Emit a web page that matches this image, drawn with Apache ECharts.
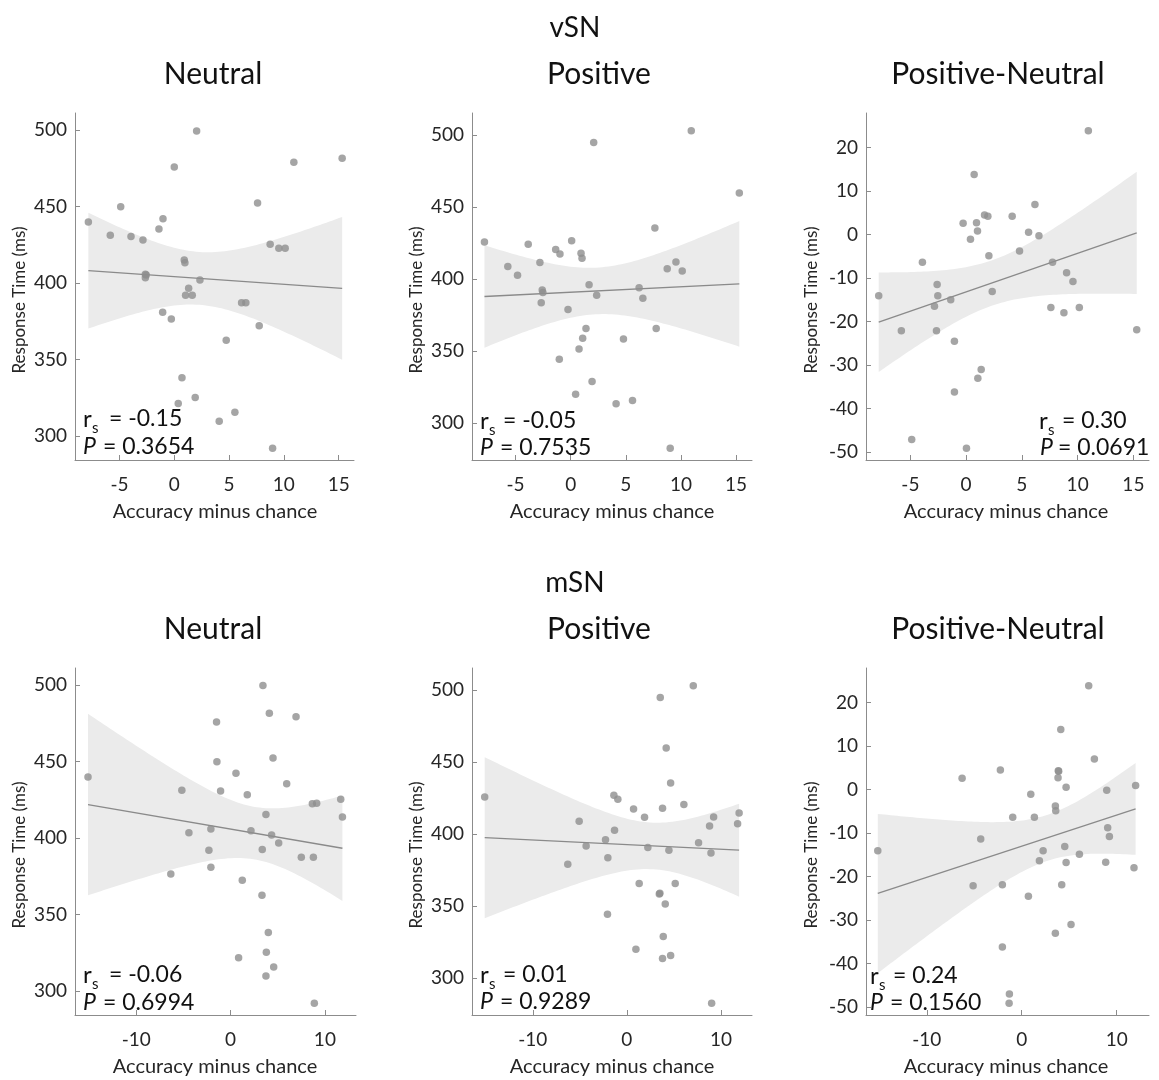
<!DOCTYPE html>
<html>
<head>
<meta charset="utf-8">
<title>Accuracy vs response time</title>
<script src="https://cdn.jsdelivr.net/npm/echarts@6/dist/echarts.min.js"></script>
<style>
  html, body { margin: 0; padding: 0; background: #ffffff; }
  #chart { width: 1159px; height: 1080px; }
</style>
</head>
<body>
<div id="chart"></div>
<script>
// ---- vSN: accuracy minus chance (x) and response time (y) per participant ----
const vsnNeutralAcc = [-7.84, -4.89, -5.84, -3.95, -2.86, -2.64, -2.64, -2.56, -1.03, -1.40, 0.00, 2.04, -1.06, -0.27, 0.91, 0.97, 1.31, 1.03, 1.64, 2.34, 0.70, 0.36, 1.91, 4.10, 5.53, 4.74, 6.14, 6.53, 7.75, 7.60, 8.75, 9.54, 10.12, 10.91, 15.32, 8.97];
const vsnNeutralRT  = [439.9, 449.9, 431.2, 430.3, 428.1, 405.7, 403.5, 405.2, 442.0, 435.3, 475.8, 499.3, 380.8, 376.5, 415.0, 413.3, 396.5, 391.9, 391.9, 402.0, 338.1, 321.3, 325.1, 309.6, 315.5, 362.5, 387.1, 387.1, 372.1, 452.3, 425.3, 422.7, 422.7, 478.9, 481.5, 291.9];

const vsnPositiveAcc = [-7.82, -5.70, -4.82, -3.85, -2.79, -2.58, -2.52, -2.67, -1.36, -0.97, 0.09, 0.94, 1.03, -0.24, 1.67, 2.36, 2.09, 1.39, 1.09, 0.76, -1.03, 1.94, 0.45, 4.12, 5.61, 4.79, 6.21, 6.55, 7.64, 7.76, 8.76, 9.55, 10.12, 10.94, 9.03, 15.30];
const vsnPositiveRT  = [425.8, 408.7, 402.7, 424.2, 411.5, 392.4, 390.8, 383.7, 420.5, 417.5, 426.7, 417.9, 414.5, 378.9, 396.2, 388.8, 494.9, 365.7, 359.0, 351.6, 344.4, 328.9, 320.2, 313.5, 315.8, 358.5, 394.1, 386.7, 435.5, 365.7, 407.3, 411.9, 405.7, 503.0, 282.7, 459.8];

const vsnDiffAcc = [-7.84, -5.81, -4.88, -3.92, -2.84, -2.66, -2.60, -2.54, -1.38, -1.05, -1.05, -0.27, 0.03, 0.39, 0.72, 0.93, 1.02, 1.05, 1.35, 1.65, 1.95, 2.04, 2.34, 4.13, 4.79, 5.60, 6.17, 6.53, 7.60, 7.75, 8.77, 9.01, 9.58, 10.15, 10.96, 15.30];
const vsnDiffRT  = [-14.1, -22.1, -47.1, -6.4, -16.5, -22.1, -11.5, -14.1, -15.0, -24.5, -36.2, 2.6, -49.1, -1.1, 13.8, 2.7, 0.8, -33.0, -31.0, 4.5, 4.2, -4.9, -13.1, 4.2, -3.8, 0.5, 6.9, -0.3, -16.8, -6.4, -18.0, -8.8, -10.8, -16.8, 23.8, -21.9];

// ---- mSN ----
const msnNeutralAcc = [-15.12, -5.17, -6.34, -4.42, -1.49, -1.45, -1.06, -2.09, -2.30, -2.09, 0.57, 1.77, 1.24, 2.16, 0.85, 3.43, 4.11, 4.50, 3.75, 3.36, 4.35, 5.10, 3.33, 4.00, 3.79, 4.57, 3.75, 5.95, 6.94, 7.50, 8.78, 8.67, 9.13, 8.88, 11.68, 11.86];
const msnNeutralRT  = [439.9, 431.2, 376.5, 403.5, 475.8, 449.9, 430.7, 405.9, 391.9, 380.8, 442.3, 428.3, 372.3, 404.8, 321.8, 499.6, 481.5, 452.3, 415.3, 392.4, 402.0, 396.7, 362.5, 338.3, 325.3, 315.7, 309.8, 435.5, 479.3, 387.4, 387.4, 422.4, 422.7, 291.9, 425.3, 413.7];

const msnPositiveAcc = [-15.11, -5.07, -6.28, -4.33, -2.27, -2.02, -2.06, -1.38, -0.96, -1.31, 0.71, 1.88, 2.23, 1.31, 0.96, 3.55, 4.18, 4.65, 3.79, 4.47, 3.51, 3.45, 4.08, 3.87, 3.79, 4.65, 5.14, 6.06, 7.06, 7.62, 8.79, 8.94, 9.22, 9.01, 11.93, 11.77];
const msnPositiveRT  = [425.8, 408.9, 379.1, 391.8, 396.2, 383.7, 344.4, 427.0, 424.2, 402.7, 417.5, 411.7, 390.7, 365.7, 320.2, 494.9, 459.8, 435.5, 417.9, 388.8, 359.0, 358.5, 351.6, 328.9, 313.7, 315.8, 365.7, 420.5, 503.0, 394.1, 405.7, 387.0, 411.9, 282.7, 414.7, 407.3];

const msnDiffAcc = [-15.16, -6.28, -5.12, -4.32, -2.25, -2.04, -2.04, -1.30, -1.33, -0.95, 0.70, 0.95, 1.33, 1.86, 2.25, 3.54, 3.58, 3.54, 3.82, 3.89, 3.85, 4.11, 4.53, 4.67, 4.67, 4.21, 5.19, 6.07, 7.05, 7.65, 8.84, 8.95, 9.05, 9.23, 11.82, 11.99];
const msnDiffRT  = [-14.1, 2.6, -22.1, -11.4, 4.5, -21.9, -36.2, -47.0, -49.1, -6.4, -24.5, -1.1, -6.4, -16.4, -14.1, -3.8, -4.9, -33.0, 2.7, 4.2, 4.3, 13.8, -13.1, 0.5, -16.8, -21.9, -31.0, -14.9, 23.8, 7.0, -16.7, -0.2, -8.8, -10.8, -18.0, 0.9];

// ---- tick labels ----
const vsnAccTicks = [-5, 0, 5, 10, 15];
const msnAccTicks = [-10, 0, 10];
const rtTicks = [300, 350, 400, 450, 500];
const diffTicks = [-50, -40, -30, -20, -10, 0, 10, 20];

// ---- Spearman statistics printed in each panel ----
const rsLabels = ['-0.15', '-0.05', '0.30', '-0.06', '0.01', '0.24'];
const pLabels  = ['0.3654', '0.7535', '0.0691', '0.6994', '0.9289', '0.1560'];

const groupTitles = ['vSN', 'mSN'];
const conditionTitles = ['Neutral', 'Positive', 'Positive-Neutral'];

// ---- styling ----
const FONT = 'Lato, "Noto Sans", sans-serif';
const TEXT = '#262626';
const AXIS = '#8c8c8c';
const DOT = '#8f8f8f';
const BAND = '#ebebeb';
const FIT = '#8a8a8a';
const T_CRIT = 2.03; // two-sided 95% Student t quantile for n-2 = 34 d.f.

// panel layout: grid box in pixels, axis ranges, and where the stats text sits
const panels = [
  { acc: vsnNeutralAcc,  rt: vsnNeutralRT,  grid: [75, 113, 279, 347],  xr: [-9.06, 16.4],  yr: [284.3, 511.1], xt: vsnAccTicks, yt: rtTicks,
    st: { rx: 83,  ry: 419, eqx: 109, px: 83,   py: 447, peqx: 103 } },
  { acc: vsnPositiveAcc, rt: vsnPositiveRT, grid: [472, 113, 280, 347], xr: [-8.95, 16.45], yr: [274.5, 515.3], xt: vsnAccTicks, yt: rtTicks,
    st: { rx: 480, ry: 421, eqx: 503, px: 480,  py: 448, peqx: 500 } },
  { acc: vsnDiffAcc,     rt: vsnDiffRT,     grid: [866, 113, 283, 347], xr: [-8.98, 16.4],  yr: [-51.8, 27.9],  xt: vsnAccTicks, yt: diffTicks,
    st: { rx: 1039, ry: 421, eqx: 1062, px: 1040, py: 448, peqx: 1058 } },
  { acc: msnNeutralAcc,  rt: msnNeutralRT,  grid: [75, 668, 281, 347],  xr: [-16.5, 13.3],  yr: [284.3, 511.1], xt: msnAccTicks, yt: rtTicks,
    st: { rx: 83,  ry: 975, eqx: 109, px: 83,   py: 1003, peqx: 103 } },
  { acc: msnPositiveAcc, rt: msnPositiveRT, grid: [472, 668, 280, 347], xr: [-16.46, 13.3], yr: [274.5, 515.3], xt: msnAccTicks, yt: rtTicks,
    st: { rx: 480, ry: 975, eqx: 503, px: 480,  py: 1002, peqx: 500 } },
  { acc: msnDiffAcc,     rt: msnDiffRT,     grid: [866, 668, 283, 347], xr: [-16.4, 13.4],  yr: [-51.8, 27.9],  xt: msnAccTicks, yt: diffTicks,
    st: { rx: 870, ry: 976, eqx: 893, px: 870,  py: 1003, peqx: 890 } }
];

// ordinary least squares line with its 95% confidence band for the mean
function linearFit(xs, ys) {
  const n = xs.length;
  const mx = xs.reduce((a, b) => a + b, 0) / n;
  const my = ys.reduce((a, b) => a + b, 0) / n;
  let sxx = 0, sxy = 0;
  for (let i = 0; i < n; i++) {
    sxx += (xs[i] - mx) * (xs[i] - mx);
    sxy += (xs[i] - mx) * (ys[i] - my);
  }
  const slope = sxy / sxx;
  const icpt = my - slope * mx;
  let sse = 0;
  for (let i = 0; i < n; i++) {
    const r = ys[i] - (icpt + slope * xs[i]);
    sse += r * r;
  }
  const s = Math.sqrt(sse / (n - 2));
  const lo = Math.min(...xs), hi = Math.max(...xs);
  const band = [];
  const steps = 80;
  for (let k = 0; k <= steps; k++) {
    const x = lo + (hi - lo) * k / steps;
    const yh = icpt + slope * x;
    const half = T_CRIT * s * Math.sqrt(1 / n + (x - mx) * (x - mx) / sxx);
    band.push([x, yh - half, yh + half]);
  }
  return { line: [[lo, icpt + slope * lo], [hi, icpt + slope * hi]], band };
}

const grids = [], xAxes = [], yAxes = [], series = [], graphics = [];

panels.forEach((p, i) => {
  grids.push({ left: p.grid[0], top: p.grid[1], width: p.grid[2], height: p.grid[3], containLabel: false });

  xAxes.push({
    gridIndex: i, type: 'value', min: p.xr[0], max: p.xr[1],
    axisLine: { show: true, onZero: false, lineStyle: { color: AXIS, width: 1 } },
    axisTick: { show: true, inside: true, length: 5, customValues: p.xt, lineStyle: { color: AXIS } },
    axisLabel: { customValues: p.xt, margin: 15, color: TEXT, fontSize: 19, fontFamily: FONT },
    splitLine: { show: false }
  });
  yAxes.push({
    gridIndex: i, type: 'value', min: p.yr[0], max: p.yr[1],
    axisLine: { show: true, onZero: false, lineStyle: { color: AXIS, width: 1 } },
    axisTick: { show: true, inside: true, length: 5, customValues: p.yt, lineStyle: { color: AXIS } },
    axisLabel: { customValues: p.yt, margin: 8, color: TEXT, fontSize: 19, fontFamily: FONT },
    splitLine: { show: false }
  });

  const fit = linearFit(p.acc, p.rt);

  series.push({
    type: 'custom', xAxisIndex: i, yAxisIndex: i, silent: true, z: 1,
    data: fit.band,
    encode: { x: 0, y: [1, 2] },
    renderItem: (params, api) => {
      if (params.dataIndex !== 0) return null;
      const upper = fit.band.map(d => api.coord([d[0], d[2]]));
      const lower = fit.band.slice().reverse().map(d => api.coord([d[0], d[1]]));
      return { type: 'polygon', shape: { points: upper.concat(lower) }, style: { fill: BAND } };
    }
  });
  series.push({
    type: 'line', xAxisIndex: i, yAxisIndex: i, silent: true, z: 2,
    data: fit.line, showSymbol: false, symbol: 'none',
    lineStyle: { color: FIT, width: 1.3 }
  });
  series.push({
    type: 'scatter', xAxisIndex: i, yAxisIndex: i, z: 3,
    data: p.acc.map((x, k) => [x, p.rt[k]]),
    symbol: 'circle', symbolSize: 7.5,
    itemStyle: { color: DOT }
  });

  // panel statistics: r_s and P
  const st = p.st;
  const f = (size, style) => (style ? style + ' ' : '') + size + 'px ' + FONT;
  graphics.push(
    { type: 'text', x: st.rx, y: st.ry, silent: true,
      style: { text: 'r', font: f(24), fill: '#111', textAlign: 'left', textVerticalAlign: 'middle' } },
    { type: 'text', x: st.rx + 9, y: st.ry + 9, silent: true,
      style: { text: 's', font: f(15), fill: '#111', textAlign: 'left', textVerticalAlign: 'middle' } },
    { type: 'text', x: st.eqx, y: st.ry, silent: true,
      style: { text: '= ' + rsLabels[i], font: f(23), fill: '#111', textAlign: 'left', textVerticalAlign: 'middle' } },
    { type: 'text', x: st.px, y: st.py, silent: true,
      style: { text: 'P', font: f(23, 'italic'), fill: '#111', textAlign: 'left', textVerticalAlign: 'middle' } },
    { type: 'text', x: st.peqx, y: st.py, silent: true,
      style: { text: '= ' + pLabels[i], font: f(23), fill: '#111', textAlign: 'left', textVerticalAlign: 'middle' } }
  );
});

// row headings, panel titles and axis names
const titleX = [213, 599, 998];
const axisNameX = [215, 612, 1006];
const yNameX = [20, 417, 812];
[0, 1].forEach(row => {
  const dy = row * 555;
  graphics.push({ type: 'text', x: 575, y: 28 + dy, silent: true,
    style: { text: groupTitles[row], font: '28px ' + FONT, fill: '#111', textAlign: 'center', textVerticalAlign: 'middle' } });
  conditionTitles.forEach((t, c) => {
    graphics.push({ type: 'text', x: titleX[c], y: 74 + dy, silent: true,
      style: { text: t, font: '30px ' + FONT, fill: '#111', textAlign: 'center', textVerticalAlign: 'middle' } });
    graphics.push({ type: 'text', x: axisNameX[c], y: 512 + dy, silent: true,
      style: { text: 'Accuracy minus chance', font: '20px ' + FONT, fill: TEXT, textAlign: 'center', textVerticalAlign: 'middle' } });
    graphics.push({ type: 'text', x: yNameX[c], y: 300 + dy, rotation: Math.PI / 2, silent: true,
      style: { text: 'Response Time (ms)', font: '17px ' + FONT, fill: TEXT, textAlign: 'center', textVerticalAlign: 'middle' } });
  });
});

const chart = echarts.init(document.getElementById('chart'), null, { renderer: 'canvas' });
chart.setOption({
  animation: false,
  backgroundColor: '#ffffff',
  grid: grids,
  xAxis: xAxes,
  yAxis: yAxes,
  series: series,
  graphic: graphics
});
</script>
</body>
</html>
